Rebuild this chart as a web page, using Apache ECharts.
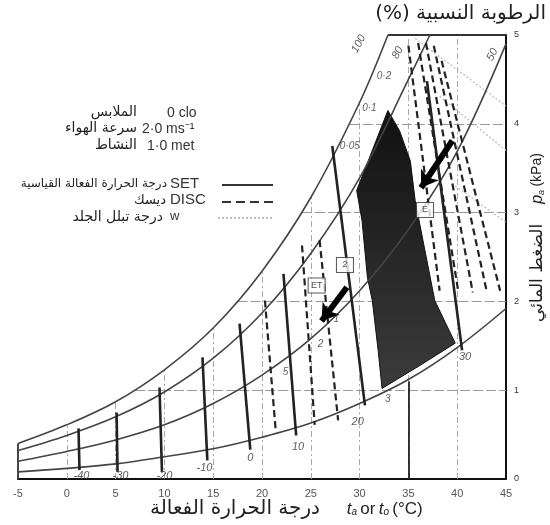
<!DOCTYPE html>
<html><head><meta charset="utf-8">
<script src="https://cdn.jsdelivr.net/npm/echarts@6/dist/echarts.min.js"></script>
<style>html,body{margin:0;padding:0;background:#fff}#c{width:550px;height:525px}</style>
</head><body><div id="c"></div>
<script>
// ---- data (T in °C, p in kPa) ----
const tempTicks = [-5,0,5,10,15,20,25,30,35,40,45];
const pressureTicks = [0,1,2,3,4,5];
const rh100 = [[-5,0.40],[0,0.61],[5,0.87],[10,1.23],[15,1.70],[20,2.34],[25,3.17],[30,4.24],[32.9,5.0]];
const rh80  = [[-5,0.32],[0,0.49],[5,0.70],[10,0.98],[15,1.36],[20,1.87],[25,2.54],[30,3.39],[35,4.50],[37.2,5.0]];
const rh50  = [[-5,0.20],[0,0.31],[5,0.44],[10,0.61],[15,0.85],[20,1.17],[25,1.58],[30,2.12],[35,2.81],[40,3.69],[45,4.90]];
const rh20  = [[-5,0.08],[0,0.12],[5,0.17],[10,0.25],[15,0.34],[20,0.47],[25,0.63],[30,0.85],[35,1.12],[40,1.48],[45,1.92]];
const gridV = [[0,0.61],[5,0.87],[10,1.23],[15,1.70],[20,2.34],[25,3.17],[30,4.24],[35,5],[40,5]];
const gridH = [[7.0,1],[17.5,2],[24.1,3],[29.0,4]];
const frame = [[[32.9,5],[45,5]],[[-5,0],[-5,0.40]]];
const setValues = ['-40','-30','-20','-10','0','10','20','30'];
const setLines = [
  [[1.2,0.57],[1.3,0.10]],
  [[5.1,0.75],[5.2,0.08]],
  [[9.5,1.03],[9.75,0.08]],
  [[13.9,1.37],[14.4,0.21]],
  [[17.7,1.75],[18.8,0.33]],
  [[22.2,2.31],[23.5,0.49]],
  [[27.2,3.75],[30.55,0.83]],
  [[36.9,4.48],[40.5,1.45]]
];
const setLabelPos = [[1.5,0.04],[5.5,0.04],[10.0,0.03],[14.1,0.12],[18.8,0.24],[23.7,0.36],[29.8,0.64],[40.8,1.37]];
const discLines = [
  [[20.3,2.01],[21.4,0.55]],
  [[24.1,2.63],[25.4,0.61]],
  [[25.9,2.69],[27.8,0.66]],
  [[35.0,4.88],[38.2,2.12]],
  [[36.0,4.91],[40.1,2.12]],
  [[36.8,4.91],[41.6,2.10]],
  [[37.6,4.88],[43.05,2.10]],
  [[38.4,4.71],[44.4,2.12]]
];
const wLines = [
  [[35.7,4.96],[45,4.20]],
  [[38.2,4.31],[45,3.70]],
  [[39.8,3.30],[45,2.89]]
];
const comfortZone = [[32.9,4.15],[29.7,3.25],[30.25,2.91],[30.8,2.27],[31.3,2.01],[31.9,1.45],[32.3,1.02],
  [36.2,1.28],[39.8,1.53],[37.7,2.01],[35.7,3.13],[35.2,3.58],[34.1,3.92]];
const arrows = [ [[39.5,3.81],[36.3,3.28]], [[28.7,2.16],[26.1,1.78]] ];
const rhLabels = [{value:[29.9,4.9],name:'100'},{value:[33.9,4.8],name:'80'},{value:[43.6,4.78],name:'50'}];
const wLabels = [{value:[32.5,4.54],name:'0·2'},{value:[31.0,4.17],name:'0·1'},{value:[29.0,3.75],name:'0·05'}];
const discLabels = [{value:[27.6,1.80],name:'1'},{value:[26.0,1.52],name:'2'},{value:[22.4,1.20],name:'5'},{value:[32.9,0.9],name:'3'}];
const boxLabels = [{value:[28.5,2.41],name:'2'},{value:[25.6,2.18],name:'ET'},{value:[36.7,3.03],name:'E'}];

const chart = echarts.init(document.getElementById('c'), null, {renderer:'canvas'});
const seg = arr => arr.map(s => ({coords: s}));
const AR = '"DejaVu Sans", sans-serif';
const LAT = '"Liberation Sans", Arial, sans-serif';

const option = {
  animation: false,
  backgroundColor: '#fff',
  grid: {left: 18, right: 44, top: 35, bottom: 46, containLabel: false},
  xAxis: {
    type: 'value', min: tempTicks[0], max: tempTicks[tempTicks.length-1], interval: 5,
    axisLine: {show: true, onZero: false, lineStyle: {color: '#111', width: 2}},
    axisTick: {show: false}, splitLine: {show: false},
    axisLabel: {color: '#555', fontSize: 11, margin: 9, fontFamily: LAT}
  },
  yAxis: {
    type: 'value', position: 'right', min: pressureTicks[0], max: pressureTicks[pressureTicks.length-1], interval: 1,
    axisLine: {show: true, onZero: false, lineStyle: {color: '#111', width: 2}},
    axisTick: {show: false}, splitLine: {show: false},
    axisLabel: {color: '#333', fontSize: 9, margin: 8, fontFamily: LAT}
  },
  series: [
    {type: 'lines', coordinateSystem: 'cartesian2d', silent: true, z: 1,
     data: seg(gridV.map(v => [[v[0],0],[v[0],v[1]]])),
     lineStyle: {color: '#aaa', width: 1, type: [6,3,2,3], opacity: 1}},
    {type: 'lines', coordinateSystem: 'cartesian2d', silent: true, z: 1,
     data: seg(gridH.map(h => [[h[0],h[1]],[45,h[1]]])),
     lineStyle: {color: '#999', width: 1.2, type: [10,3], opacity: 1}},
    {type: 'lines', coordinateSystem: 'cartesian2d', silent: true, z: 2,
     data: seg(wLines), lineStyle: {color: '#bbb', width: 1.2, type: [2,2], opacity: 1}},
    {type: 'custom', silent: true, z: 3, data: [[0,0]],
     renderItem: (params, api) => ({
       type: 'polygon', shape: {points: comfortZone.map(p => api.coord(p))},
       style: {fill: new echarts.graphic.LinearGradient(0,0,0,1,[{offset:0,color:'#111'},{offset:0.6,color:'#2a2a2a'},{offset:1,color:'#3c3c3c'}]), stroke: '#111', lineWidth: 1}
     })},
    ...[rh100, rh80, rh50, rh20].map(d => ({
      type: 'line', data: d, smooth: 0.35, showSymbol: false, silent: true, z: 4,
      lineStyle: {color: '#444', width: 1.6}
    })),
    {type: 'lines', coordinateSystem: 'cartesian2d', silent: true, z: 4,
     data: seg(frame), lineStyle: {color: '#333', width: 1.8, opacity: 1}},
    {type: 'lines', coordinateSystem: 'cartesian2d', silent: true, z: 4,
     data: seg([[[35,0],[35,1.1]]]), lineStyle: {color: '#222', width: 1.8, opacity: 1}},
    {type: 'lines', coordinateSystem: 'cartesian2d', silent: true, z: 5,
     data: seg(discLines), lineStyle: {color: '#222', width: 2.2, type: [7,4], opacity: 1}},
    {type: 'lines', coordinateSystem: 'cartesian2d', silent: true, z: 5,
     data: seg(setLines), lineStyle: {color: '#222', width: 2.6, opacity: 1}},
    {type: 'lines', coordinateSystem: 'cartesian2d', silent: true, z: 6,
     symbol: ['none','arrow'], symbolSize: 16,
     data: seg(arrows), lineStyle: {color: '#000', width: 6, opacity: 1}},
    {type: 'scatter', silent: true, z: 7, symbolSize: 1, itemStyle: {color: 'rgba(0,0,0,0)'},
     data: setValues.map((v,i) => ({value: setLabelPos[i], name: v})),
     label: {show: true, position: 'inside', formatter: '{b}', color: '#333', fontSize: 11, fontStyle: 'italic', fontFamily: LAT}},
    {type: 'scatter', silent: true, z: 7, symbolSize: 1, itemStyle: {color: 'rgba(0,0,0,0)'},
     data: rhLabels,
     label: {show: true, position: 'inside', formatter: '{b}', rotate: 62, color: '#333', fontSize: 11, fontStyle: 'italic', fontFamily: LAT}},
    {type: 'scatter', silent: true, z: 7, symbolSize: 1, itemStyle: {color: 'rgba(0,0,0,0)'},
     data: wLabels.concat(discLabels),
     label: {show: true, position: 'inside', formatter: '{b}', color: '#333', fontSize: 10, fontStyle: 'italic', fontFamily: LAT}},
    {type: 'scatter', silent: true, z: 8, symbol: 'rect', symbolSize: [17,15],
     itemStyle: {color: '#fff', borderColor: '#333', borderWidth: 1},
     data: boxLabels,
     label: {show: true, position: 'inside', formatter: '{b}', color: '#222', fontSize: 9, fontFamily: LAT}}
  ],
  graphic: [
    // top title
    {type: 'text', x: 546, y: 4, style: {text: '(%) الرطوبة النسبية', font: '20px ' + AR, fill: '#222', textAlign: 'right'}},
    // right axis name
    {type: 'text', x: 529, y: 322, rotation: Math.PI/2,
     style: {text: '{ar|الضغط المائي}      {it|p}{sub|a} {n|(kPa)}', fill: '#222',
       rich: {ar: {font: '17px ' + AR}, it: {font: 'italic 16px ' + LAT}, sub: {font: 'italic 9px ' + LAT, padding:[7,0,0,0]}, n: {font: '14px ' + LAT}}}},
    // bottom axis name
    {type: 'text', x: 150, y: 499,
     style: {text: '{ar|درجة الحرارة الفعالة}        {it|t}{sub|a} {n|or} {it|t}{sub|o} {n|(°C)}', fill: '#222',
       rich: {ar: {font: '20px ' + AR}, it: {font: 'italic 17px ' + LAT}, sub: {font: 'italic 10px ' + LAT, padding:[7,0,0,0]}, n: {font: '17px ' + LAT}}}},
    // legend block
    {type: 'text', x: 137, y: 105, style: {text: 'الملابس', font: '14px ' + AR, fill: '#222', textAlign: 'right'}},
    {type: 'text', x: 167, y: 106, style: {text: '0 clo', font: '14px ' + LAT, fill: '#333'}},
    {type: 'text', x: 137, y: 121, style: {text: 'سرعة الهواء', font: '14px ' + AR, fill: '#222', textAlign: 'right'}},
    {type: 'text', x: 142, y: 122, style: {text: '2·0 ms⁻¹', font: '14px ' + LAT, fill: '#333'}},
    {type: 'text', x: 137, y: 138, style: {text: 'النشاط', font: '14px ' + AR, fill: '#222', textAlign: 'right'}},
    {type: 'text', x: 147, y: 139, style: {text: '1·0 met', font: '14px ' + LAT, fill: '#333'}},
    {type: 'text', x: 167, y: 178, style: {text: 'درجة الحرارة الفعالة القياسية', font: '12px ' + AR, fill: '#222', textAlign: 'right'}},
    {type: 'text', x: 170, y: 176, style: {text: 'SET', font: '15px ' + LAT, fill: '#333'}},
    {type: 'line', shape: {x1: 222, y1: 185, x2: 273, y2: 185}, style: {stroke: '#333', lineWidth: 1.8}},
    {type: 'text', x: 166, y: 194, style: {text: 'ديسك', font: '13px ' + AR, fill: '#222', textAlign: 'right'}},
    {type: 'text', x: 170, y: 192, style: {text: 'DISC', font: '15px ' + LAT, fill: '#333'}},
    {type: 'line', shape: {x1: 222, y1: 202, x2: 273, y2: 202}, style: {stroke: '#333', lineWidth: 1.8, lineDash: [9,5]}},
    {type: 'text', x: 163, y: 210, style: {text: 'درجة تبلل الجلد', font: '14px ' + AR, fill: '#222', textAlign: 'right'}},
    {type: 'text', x: 170, y: 210, style: {text: 'w', font: '13px ' + LAT, fill: '#333'}},
    {type: 'line', shape: {x1: 218, y1: 218, x2: 273, y2: 218}, style: {stroke: '#aaa', lineWidth: 1.5, lineDash: [2,2]}}
  ]
};
chart.setOption(option);
</script>
</body></html>
